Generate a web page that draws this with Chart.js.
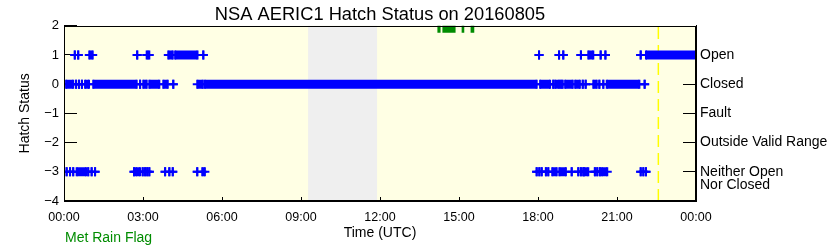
<!DOCTYPE html>
<html>
<head>
<meta charset="utf-8">
<script src="https://cdn.jsdelivr.net/npm/chart.js@4"></script>
<style>
  html, body { margin: 0; padding: 0; background: #ffffff; }
  #wrap { width: 840px; height: 250px; }
</style>
</head>
<body>
<div id="wrap"><canvas id="c" width="840" height="250"></canvas></div>
<script>
// ---- data (hours UTC) ----
const titleText = 'NSA AERIC1 Hatch Status on 20160805';
const xTickHours = [0, 3, 6, 9, 12, 15, 18, 21, 24];
const statusValues = [-3, -2, -1, 0, 1];
const statusLabels = [['', 'Neither Open', 'Nor Closed'], 'Outside Valid Range', 'Fault', 'Closed', 'Open'];

// runs of consecutive samples [start, end]; single samples have start == end
const openRuns = [[0.41,0.41],[0.54,0.54],[0.96,1.09],[2.78,2.78],[3.14,3.24],[3.96,4.13],[4.22,5.07],[5.29,5.29],
  [18.04,18.04],[18.80,18.80],[18.96,18.96],[19.63,19.63],[19.91,20.10],[20.38,20.38],[20.56,20.56],[21.90,21.90],[22.10,24.00]];
const closedRuns = [[0.08,0.35],[0.46,0.46],[0.57,0.57],[0.68,0.68],[0.80,0.95],[1.11,2.76],[2.89,2.89],[3.01,3.14],
  [3.24,3.62],[3.77,3.94],[4.15,4.15],[5.06,5.27],[5.34,17.95],[18.08,18.46],[18.58,18.58],[18.65,18.81],[18.86,18.94],
  [19.03,19.32],[19.41,19.59],[19.70,19.70],[19.81,19.81],[20.10,20.23],[20.33,20.33],[20.48,20.48],[20.61,21.85],[22.05,22.05]];
const neitherRuns = [[0.10,0.10],[0.23,0.23],[0.35,0.35],[0.48,0.84],[0.92,0.92],[1.05,1.05],[1.18,1.18],
  [2.66,2.66],[2.73,2.89],[2.99,2.99],[3.08,3.08],[3.16,3.16],[3.24,3.24],
  [3.84,3.84],[4.00,4.00],[4.13,4.13],[5.06,5.06],[5.25,5.35],
  [17.95,17.95],[18.05,18.05],[18.14,18.14],[18.30,18.30],[18.39,18.39],[18.54,18.71],[18.81,19.06],[19.28,19.28],
  [19.53,19.53],[19.63,19.63],[19.72,19.72],[19.75,19.91],[20.16,20.16],[20.25,20.25],[20.35,20.35],[20.42,20.63],
  [21.90,21.90],[22.00,22.00],[22.10,22.10]];
const rainRuns = [[14.18,14.30],[14.37,14.87],[15.10,15.20],[15.44,15.58]];
const rainFlagValue = 1;
const grayBand = [9.27, 11.89];
const markerTime = [22.57];

// ---- helpers ----
function runsToPoints(runs, y) {
  const out = [];
  runs.forEach(r => { out.push({x: r[0], y: y}, {x: r[1], y: y}, {x: r[1], y: null}); });
  return out;
}
function hhmm(h) {
  const hh = (h % 24);
  return String(hh).padStart(2, '0') + ':00';
}

const FONT = "'Liberation Sans', Arial, sans-serif";
Chart.defaults.font.family = FONT;
Chart.defaults.color = '#000000';

const bgPlugin = {
  id: 'bg',
  beforeDraw(chart) {
    const {ctx, chartArea: a, scales: {x}} = chart;
    ctx.save();
    ctx.fillStyle = 'rgb(255,255,228)';
    ctx.fillRect(a.left, a.top, a.right - a.left, a.bottom - a.top);
    const g0 = x.getPixelForValue(grayBand[0]);
    const g1 = x.getPixelForValue(grayBand[1]);
    ctx.fillStyle = 'rgb(239,239,239)';
    ctx.fillRect(g0, a.top, g1 - g0, a.bottom - a.top);
    ctx.restore();
  },
  afterDraw(chart) {
    const {ctx, chartArea: a} = chart;
    ctx.save();
    ctx.strokeStyle = '#000';
    ctx.lineWidth = 1;
    ctx.strokeRect(Math.round(a.left) + 0.5, Math.round(a.top) + 0.5, Math.round(a.right - a.left) - 1, Math.round(a.bottom - a.top) - 1);
    ctx.fillStyle = 'rgb(0,140,0)';
    ctx.font = '14px ' + FONT;
    ctx.textAlign = 'left';
    ctx.textBaseline = 'middle';
    ctx.fillText('Met Rain Flag', a.left + 1, 238);
    ctx.restore();
  }
};

const blueStyle = {
  type: 'line',
  borderColor: '#0000ff',
  backgroundColor: '#0000ff',
  borderWidth: 9,
  borderCapStyle: 'butt',
  spanGaps: false,
  pointStyle: 'cross',
  pointRadius: 4.5,
  pointBorderWidth: 2,
  pointBorderColor: '#0000ff',
  pointHoverRadius: 4.5,
  clip: 0,
  order: 1
};

new Chart(document.getElementById('c'), {
  type: 'line',
  data: {
    datasets: [
      Object.assign({label: 'Open', data: runsToPoints(openRuns, 1)}, blueStyle),
      Object.assign({label: 'Closed', data: runsToPoints(closedRuns, 0)}, blueStyle),
      Object.assign({label: 'Neither', data: runsToPoints(neitherRuns, -3)}, blueStyle),
      {
        label: 'Rain', type: 'line', yAxisID: 'yRain',
        data: runsToPoints(rainRuns, rainFlagValue),
        borderColor: 'rgb(0,140,0)', borderWidth: 14, borderCapStyle: 'butt',
        pointRadius: 0, spanGaps: false, clip: 0, order: 2
      },
      {
        label: 'Marker', type: 'line',
        data: [{x: markerTime[0], y: -4}, {x: markerTime[0], y: 2}],
        borderColor: '#ffff00', borderWidth: 1.5, borderDash: [12, 6],
        pointRadius: 0, clip: 0, order: 10
      }
    ]
  },
  options: {
    responsive: false,
    animation: false,
    events: [],
    layout: { padding: 0 },
    plugins: {
      legend: { display: false },
      tooltip: { enabled: false },
      title: {
        display: true, text: titleText, color: '#000', fullSize: false,
        font: { size: 18.3, family: FONT, weight: 'normal', lineHeight: 1.15 },
        padding: { top: 1.5, bottom: 0.45 }
      }
    },
    scales: {
      x: {
        type: 'linear', min: 0, max: 24, position: 'bottom',
        afterBuildTicks(s) { s.ticks = xTickHours.map(v => ({value: v})); },
        afterFit(s) { s.height = 49; },
        ticks: { callback: v => hhmm(v), maxRotation: 0, autoSkip: false, padding: 13, font: { size: 12.5 }, color: '#000' },
        grid: { drawOnChartArea: false, tickLength: -4, color: '#000', tickWidth: 1 },
        border: { color: '#000' },
        title: { display: true, text: 'Time (UTC)', font: { size: 14, lineHeight: 1.2 }, padding: { top: 0, bottom: 8 }, color: '#000' }
      },
      y: {
        type: 'linear', min: -4, max: 2, position: 'left',
        afterFit(s) { s.width = 64; },
        ticks: { stepSize: 1, callback: v => (v < 0 ? '\u2212' + Math.abs(v) : String(v)), padding: 18, font: { size: 13 }, color: '#000' },
        grid: { drawOnChartArea: false, tickLength: -13, color: '#000' },
        border: { color: '#000' },
        title: { display: true, text: 'Hatch Status', font: { size: 14, lineHeight: 1.2 }, padding: { top: 16.6, bottom: 0 }, color: '#000' }
      },
      y2: {
        type: 'linear', min: -4, max: 2, position: 'right',
        afterBuildTicks(s) { s.ticks = statusValues.map(v => ({value: v})); },
        afterFit(s) { s.width = 144; },
        ticks: { callback: (v) => statusLabels[statusValues.indexOf(v)], padding: 17, font: { size: 14, lineHeight: 0.95 }, color: '#000', autoSkip: false },
        grid: { drawOnChartArea: false, tickLength: -13, color: '#000' },
        border: { color: '#000' }
      },
      yRain: {
        type: 'linear', min: 0, max: 1, display: false
      }
    }
  },
  plugins: [bgPlugin]
});
</script>
</body>
</html>
